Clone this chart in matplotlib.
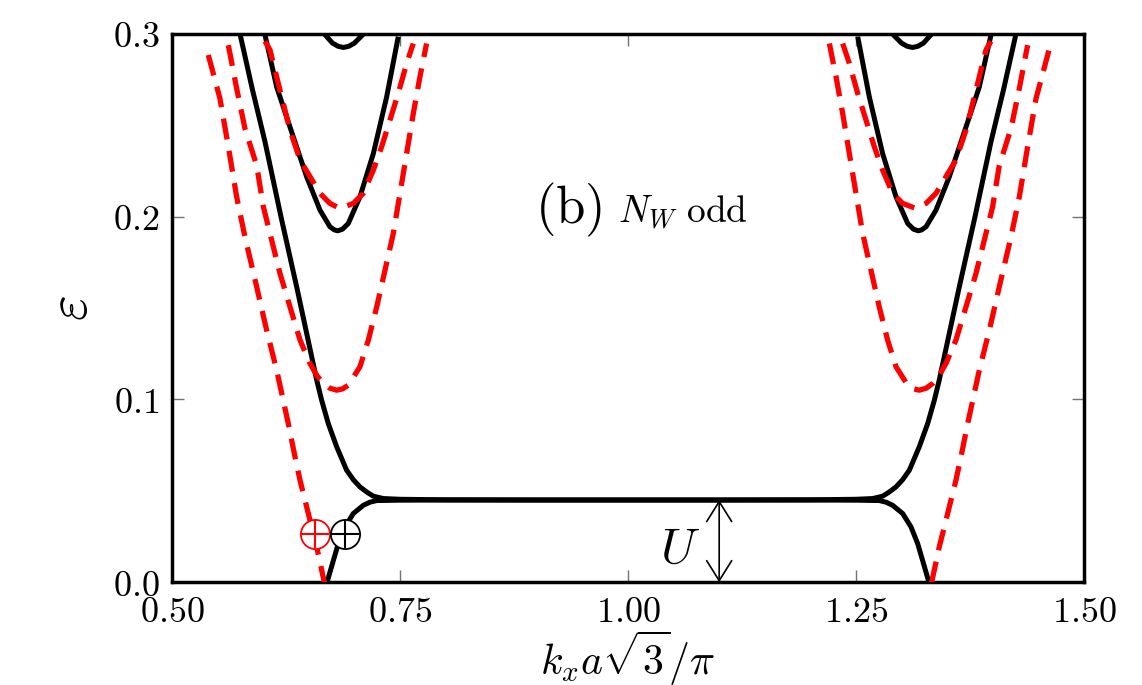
import matplotlib
matplotlib.use('Agg')
from matplotlib import pyplot as plt

plt.rcParams['mathtext.fontset'] = 'cm'
plt.rcParams['font.family'] = 'serif'

# black solid bands
band_a_kx = [0.5746, 0.588, 0.602, 0.6195, 0.637, 0.6587, 0.6641, 0.6714, 0.6806,
             0.6915, 0.6990, 0.7061, 0.7140, 0.7208, 0.7317, 0.750, 0.800, 0.900,
             1.000, 1.100, 1.200, 1.250, 1.2683, 1.2792, 1.2860, 1.2939, 1.3010,
             1.3085, 1.3194, 1.3286, 1.3359, 1.3413, 1.363, 1.3805, 1.398, 1.412,
             1.4254]
band_a_eps = [0.300, 0.270, 0.241, 0.200, 0.161, 0.1106, 0.0996, 0.0868, 0.0741,
              0.0613, 0.0560, 0.0522, 0.0492, 0.0471, 0.0458, 0.0454, 0.0451, 0.0450,
              0.0450, 0.0450, 0.0451, 0.0454, 0.0458, 0.0471, 0.0492, 0.0522, 0.0560,
              0.0613, 0.0741, 0.0868, 0.0996, 0.1106, 0.161, 0.200, 0.241, 0.270,
              0.300]

band_b_kx = [0.670, 0.677, 0.6824, 0.6897, 0.6988, 0.7098, 0.7170, 0.7245, 0.750,
             0.800, 0.900, 1.000, 1.100, 1.200, 1.250, 1.2755, 1.2830, 1.2902,
             1.3012, 1.3103, 1.3176, 1.323, 1.330]
band_b_eps = [0.0, 0.012, 0.0212, 0.0303, 0.0376, 0.0421, 0.0438, 0.0447, 0.0449,
              0.0450, 0.0450, 0.0450, 0.0450, 0.0450, 0.0449, 0.0447, 0.0438, 0.0421,
              0.0376, 0.0303, 0.0212, 0.012, 0.0]

band_c_left_kx = [0.602, 0.6148, 0.633, 0.6477, 0.6623, 0.6732, 0.6780, 0.6817,
                  0.6870, 0.6933, 0.7061, 0.7208, 0.7354, 0.7481]
band_c_right_kx = [1.2519, 1.2646, 1.2792, 1.2939, 1.3067, 1.3130, 1.3183, 1.3220,
                   1.3268, 1.3377, 1.3523, 1.367, 1.3852, 1.398]
band_c_left_eps = [0.2994, 0.271, 0.2437, 0.2218, 0.2036, 0.1945, 0.1928, 0.1923,
                   0.1932, 0.1963, 0.2109, 0.2346, 0.2656, 0.2985]
band_c_right_eps = [0.2985, 0.2656, 0.2346, 0.2109, 0.1963, 0.1932, 0.1923, 0.1928,
                    0.1945, 0.2036, 0.2218, 0.2437, 0.271, 0.2994]

band_d_left_kx = [0.662, 0.668, 0.676, 0.682, 0.688, 0.694, 0.700, 0.709, 0.715]
band_d_right_kx = [1.285, 1.291, 1.300, 1.306, 1.312, 1.318, 1.324, 1.332, 1.338]
band_d_eps = [0.303, 0.2995, 0.295, 0.2933, 0.2926, 0.2933, 0.295, 0.2995, 0.303]

# red dashed bands
red1_left_kx = [0.5398, 0.5526, 0.5618, 0.5709, 0.580, 0.5929, 0.6038, 0.6148,
                0.6275, 0.6349, 0.6404, 0.6495, 0.6587, 0.667]
red1_left_eps = [0.2885, 0.2647, 0.2383, 0.2109, 0.189, 0.1616, 0.1379, 0.116,
                 0.0869, 0.0686, 0.0558, 0.0376, 0.0193, 0.0]
red1_right_kx = [1.333, 1.3413, 1.3505, 1.3596, 1.3651, 1.3725, 1.3852, 1.3962,
                 1.4071, 1.420, 1.4291, 1.4382, 1.4474, 1.4602, 1.464]
red1_right_eps = [0.0, 0.0193, 0.0376, 0.0558, 0.0686, 0.0869, 0.116, 0.1379,
                  0.1616, 0.189, 0.2109, 0.2383, 0.2647, 0.2885, 0.296]

red2_left_kx = [0.5618, 0.5709, 0.580, 0.5929, 0.6002, 0.6093, 0.6184, 0.6294,
                0.6404, 0.6513, 0.6590, 0.6659, 0.6730, 0.6806, 0.6870, 0.6933,
                0.7061, 0.7153, 0.7245, 0.7336, 0.7427, 0.750, 0.7573, 0.7646,
                0.7719, 0.7792]
red2_left_eps = [0.2939, 0.2702, 0.2483, 0.228, 0.2054, 0.1872, 0.169, 0.1507,
                 0.1325, 0.1197, 0.1130, 0.1088, 0.1062, 0.1051, 0.1058, 0.1078,
                 0.1179, 0.1325, 0.1507, 0.1708, 0.1909, 0.2128, 0.2346, 0.2565,
                 0.2766, 0.2948]
red2_right_kx = [1.2208, 1.2281, 1.2354, 1.2427, 1.250, 1.2573, 1.2664, 1.2755,
                 1.2847, 1.2939, 1.3067, 1.3130, 1.3194, 1.3270, 1.3341, 1.3410,
                 1.3487, 1.3596, 1.3706, 1.3816, 1.3907, 1.3998, 1.4071, 1.420,
                 1.4291, 1.4382]
red2_right_eps = [0.2948, 0.2766, 0.2565, 0.2346, 0.2128, 0.1909, 0.1708, 0.1507,
                  0.1325, 0.1179, 0.1078, 0.1058, 0.1051, 0.1062, 0.1088, 0.1130,
                  0.1197, 0.1325, 0.1507, 0.169, 0.1872, 0.2054, 0.228, 0.2483,
                  0.2702, 0.2939]

red3_left_kx = [0.602, 0.6075, 0.6184, 0.6294, 0.6404, 0.6513, 0.6623, 0.6732,
                0.6842, 0.6988, 0.7098, 0.7208, 0.7299, 0.739, 0.7481, 0.7573, 0.7646]
red3_left_eps = [0.296, 0.2912, 0.2693, 0.2474, 0.231, 0.2220, 0.2128, 0.2073,
                 0.2045, 0.2073, 0.2128, 0.2255, 0.2383, 0.2529, 0.2675, 0.2839, 0.2948]
red3_right_kx = [1.2354, 1.2427, 1.2519, 1.261, 1.2701, 1.2792, 1.2902, 1.3012,
                 1.3158, 1.3268, 1.3377, 1.3487, 1.3596, 1.3706, 1.3816, 1.3925, 1.398]
red3_right_eps = [0.2948, 0.2839, 0.2675, 0.2529, 0.2383, 0.2255, 0.2128, 0.2073,
                  0.2045, 0.2073, 0.2128, 0.2220, 0.231, 0.2474, 0.2693, 0.2912, 0.296]

xticks = [0.50, 0.75, 1.00, 1.25, 1.50]
yticks = [0.0, 0.1, 0.2, 0.3]

# circled-plus markers and gap arrow
oplus_kx = [0.6568, 0.6897]
oplus_eps = [0.0263, 0.0263]
oplus_colors = ['red', 'black']
gap_kx = 1.1
gap_eps = 0.045

fig = plt.figure(figsize=(11.42, 6.85), dpi=100)
ax = fig.add_axes([0.1506, 0.150, 0.7986, 0.8004])

black_curves = [(band_a_kx, band_a_eps), (band_b_kx, band_b_eps),
                (band_c_left_kx, band_c_left_eps), (band_c_right_kx, band_c_right_eps),
                (band_d_left_kx, band_d_eps), (band_d_right_kx, band_d_eps)]
for kx, eps in black_curves:
    ax.plot(kx, eps, color='black', lw=3.6, solid_capstyle='butt',
            solid_joinstyle='round', zorder=2)

red_curves = [(red1_left_kx, red1_left_eps), (red1_right_kx, red1_right_eps),
              (red2_left_kx, red2_left_eps), (red2_right_kx, red2_right_eps),
              (red3_left_kx, red3_left_eps), (red3_right_kx, red3_right_eps)]
for kx, eps in red_curves:
    ax.plot(kx, eps, color='red', lw=3.8, dashes=(4.0, 2.2), zorder=3)

for x, y, c in zip(oplus_kx, oplus_eps, oplus_colors):
    ax.plot(x, y, marker='o', ms=21, mfc='white', mec=c, mew=1.3, zorder=5,
            clip_on=False)
    ax.plot(x, y, marker='+', ms=20, mec=c, mew=1.5, zorder=6, clip_on=False)

ax.annotate('', xy=(gap_kx, gap_eps), xytext=(gap_kx, 0.0),
            arrowprops=dict(arrowstyle='<->, head_length=0.4, head_width=0.25',
                            lw=1.2, color='black', mutation_scale=36,
                            shrinkA=0, shrinkB=0), zorder=4)
ax.text(1.057, 0.0104, r'$U$', fontsize=36, ha='center', va='baseline')
ax.text(0.898, 0.1965, r'$\mathrm{(b)}$', fontsize=38, ha='left', va='baseline')
ax.text(0.989, 0.1965, r'$N_W\ \mathrm{odd}$', fontsize=27, ha='left', va='baseline')

ax.set_xlim(0.5, 1.5)
ax.set_ylim(0.0, 0.3)
ax.set_xticks(xticks)
ax.set_yticks(yticks)
ax.set_xticklabels(['$%.2f$' % t for t in xticks])
ax.set_yticklabels(['$%.1f$' % t for t in yticks])
ax.tick_params(direction='in', length=8.5, width=1.0, color='0.45',
               labelsize=26, pad=9, top=True, right=True)
for s in ax.spines.values():
    s.set_linewidth(2.5)

ax.set_xlabel(r'$k_x a\sqrt{3}/\pi$', fontsize=30, labelpad=0)
ax.set_ylabel(r'$\varepsilon$', fontsize=40, labelpad=10)

fig.savefig('out.png', dpi=100)
